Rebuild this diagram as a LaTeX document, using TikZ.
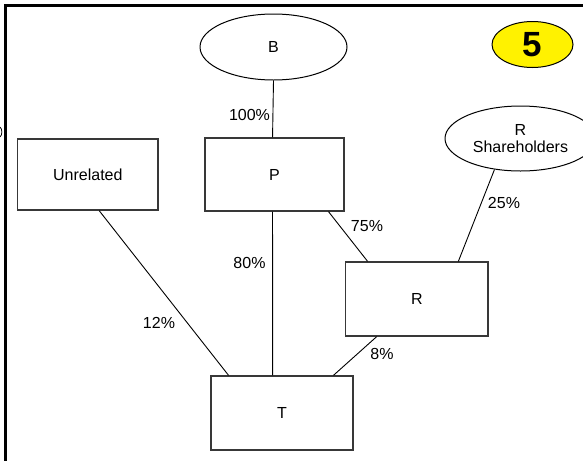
\documentclass[tikz,border=0pt]{standalone}
\usepackage{fontspec}
\setmainfont{Liberation Sans}
\usetikzlibrary{shapes.geometric,calc}
\begin{document}
\begin{tikzpicture}[x=1pt,y=-1pt,
  every node/.style={font=\fontsize{16}{18}\selectfont},
  box/.style={draw=black!78,line width=1.3pt,inner sep=0pt},
  oval/.style={draw=black,line width=1pt,ellipse,inner sep=0pt,align=center},
  link/.style={draw=black,line width=0.9pt},
  pct/.style={inner sep=0pt}]
\useasboundingbox (0,0) rectangle (583,461);
\fill[white] (0,0) rectangle (583,461);
% frame
\draw[line width=2.6pt] (583,5.3) -- (5.3,5.3) -- (5.3,461);
\draw[line width=0.8pt] (0,127) .. controls (2.5,129) and (2.5,135) .. (0,137);
% nodes
\node[oval,minimum width=147,minimum height=66] (B) at (273.5,47) {B};
\node[oval,fill=yellow,minimum width=81,minimum height=46,
      font=\fontsize{35}{36}\bfseries\selectfont] (five) at (532.5,44.5) {5};
\node[oval,minimum width=151,minimum height=65] (RS) at (520.5,138.5) {R\\[-1pt]Shareholders};
\node[box,minimum width=140.3,minimum height=71] (U) at (87.85,174.5) {Unrelated};
\node[box,minimum width=139,minimum height=73] (P) at (274.5,174.5) {P};
\node[box,minimum width=142.3,minimum height=74] (R) at (416.85,299) {R};
\node[box,minimum width=142,minimum height=74] (T) at (282,413) {T};
% connectors
\draw[link] (B.south) -- ($(P.north west)!0.486!(P.north east)$);
\draw[link] ($(U.south west)!0.58!(U.south east)$) -- ($(T.north west)!0.127!(T.north east)$);
\draw[link] ($(P.south west)!0.486!(P.south east)$) -- ($(T.north west)!0.4345!(T.north east)$);
\draw[link] ($(P.south west)!0.885!(P.south east)$) -- ($(R.north west)!0.157!(R.north east)$);
\draw[link] (RS.230) -- ($(R.north west)!0.789!(R.north east)$);
\draw[link] ($(R.south west)!0.22!(R.south east)$) -- ($(T.north west)!0.859!(T.north east)$);
% labels
\node[pct] (l100) at (249.5,115) {100\%};
\node[pct] (l12) at (159,323) {12\%};
\node[pct] (l80) at (249.5,262.5) {80\%};
\node[pct] (l75) at (367,226) {75\%};
\node[pct] (l25) at (504,203) {25\%};
\node[pct] (l8) at (382,354) {8\%};
\end{tikzpicture}
\end{document}
